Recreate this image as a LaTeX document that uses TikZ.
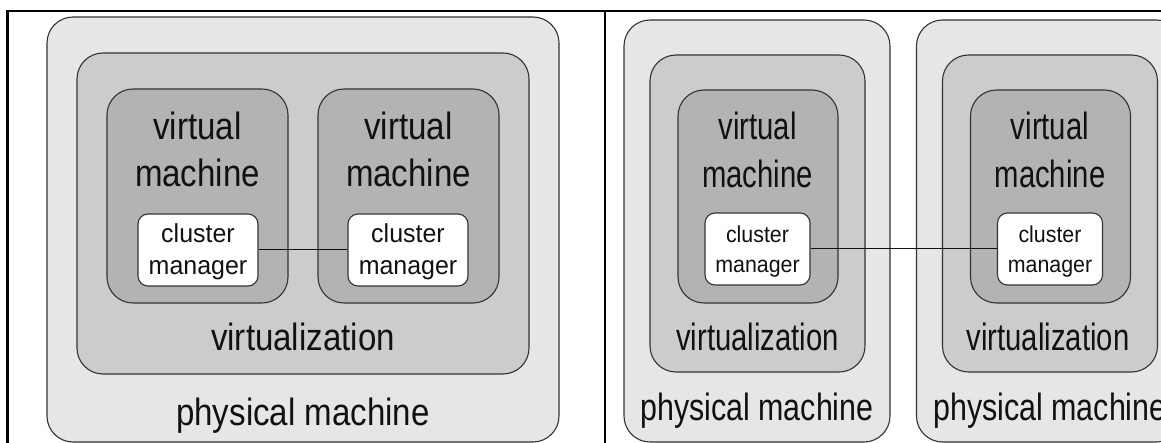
\documentclass[tikz,border=0pt]{standalone}
\usepackage{fontspec}
\setmainfont{Liberation Sans}
\newfontfamily\wideL[FakeStretch=0.87]{Liberation Sans}
\newfontfamily\wideR[FakeStretch=0.77]{Liberation Sans}
\newfontfamily\wideRb[FakeStretch=0.80]{Liberation Sans}
\newfontfamily\smallL[FakeStretch=0.96]{Liberation Sans}
\newfontfamily\smallR[FakeStretch=0.93]{Liberation Sans}
\definecolor{pmfill}{HTML}{E6E6E6}
\definecolor{vtfill}{HTML}{CCCCCC}
\definecolor{vmfill}{HTML}{B3B3B3}
\definecolor{edge}{HTML}{333333}
\definecolor{ink}{HTML}{111111}
\tikzset{
  box/.style={draw=edge, line width=1.1pt, inner sep=0pt, rounded corners=26pt},
  pmbox/.style={box, fill=pmfill},
  vtbox/.style={box, fill=vtfill},
  vmbox/.style={box, fill=vmfill},
  cmbox/.style={box, fill=white, rounded corners=10pt},
  txt/.style={anchor=base, inner sep=0pt, text=ink},
  bigL/.style={txt, font=\wideL\fontsize{38}{46}\selectfont},
  bigR/.style={txt, font=\wideR\fontsize{38}{46}\selectfont},
  pmR/.style={txt, font=\wideRb\fontsize{38}{46}\selectfont},
  smL/.style={txt, font=\smallL\fontsize{26}{32}\selectfont},
  smR/.style={txt, font=\smallR\fontsize{23}{30}\selectfont},
  link/.style={draw=ink, line width=1pt},
  frame/.style={draw=black, line width=2.6pt}
}
\begin{document}
\begin{tikzpicture}[x=1pt, y=-1pt]
\useasboundingbox (0,0) rectangle (1161,443);
\fill[white] (0,0) rectangle (1161,443);
\begin{scope}
\clip (0,0) rectangle (1161,443);

% ---------- left panel: one physical machine ----------
\node[pmbox, minimum width=512pt, minimum height=425pt] (pmL) at (303,229.5) {};
\node[vtbox, minimum width=452pt, minimum height=321pt] (vtL) at (303,213.5) {};
\node[vmbox, minimum width=181pt, minimum height=214pt] (vmL1) at (197.5,196) {};
\node[vmbox, minimum width=181pt, minimum height=214pt] (vmL2) at (408.5,196) {};
\node[cmbox, minimum width=120pt, minimum height=72pt] (cmL1) at (198,250) {};
\node[cmbox, minimum width=120pt, minimum height=72pt] (cmL2) at (408,250) {};

\node[bigL] (vmL1a) at (197.5,140) {virtual};
\node[bigL] (vmL1b) at (197.5,187) {machine};
\node[bigL] (vmL2a) at (408.5,140) {virtual};
\node[bigL] (vmL2b) at (408.5,187) {machine};
\node[smL] (cmL1a) at (198,243) {cluster};
\node[smL] (cmL1b) at (198,275) {manager};
\node[smL] (cmL2a) at (408,243) {cluster};
\node[smL] (cmL2b) at (408,275) {manager};
\node[bigL] (vtLt) at (303,350) {virtualization};
\node[bigL] (pmLt) at (303,425) {physical machine};

\draw[link] (cmL1.east) -- (cmL2.west);

% ---------- right panel: two physical machines ----------
\node[pmbox, minimum width=266pt, minimum height=422pt] (pmA) at (757,231) {};
\node[vtbox, minimum width=215pt, minimum height=317pt] (vtA) at (757.5,213.5) {};
\node[vmbox, minimum width=160pt, minimum height=213pt] (vmA) at (758,196.5) {};
\node[cmbox, minimum width=105pt, minimum height=72pt] (cmA) at (757.5,249) {};

\node[pmbox, minimum width=266pt, minimum height=422pt] (pmB) at (1049.5,231) {};
\node[vtbox, minimum width=215pt, minimum height=317pt] (vtB) at (1050,213.5) {};
\node[vmbox, minimum width=160pt, minimum height=213pt] (vmB) at (1050.5,196.5) {};
\node[cmbox, minimum width=105pt, minimum height=72pt] (cmB) at (1050,249) {};

\node[bigR] (vmAa) at (757.5,140) {virtual};
\node[bigR] (vmAb) at (757.5,188) {machine};
\node[smR] (cmAa) at (757.5,243) {cluster};
\node[smR] (cmAb) at (757.5,273) {manager};
\node[bigR] (vtAt) at (757.5,350) {virtualization};
\node[pmR] (pmAt) at (757,420) {physical machine};

\node[bigR] (vmBa) at (1050,140) {virtual};
\node[bigR] (vmBb) at (1050,188) {machine};
\node[smR] (cmBa) at (1050,243) {cluster};
\node[smR] (cmBb) at (1050,273) {manager};
\node[bigR] (vtBt) at (1048,350) {virtualization};
\node[pmR] (pmBt) at (1050,420) {physical machine};

\draw[link] (cmA.east) -- (cmB.west);

% ---------- table frame ----------
\draw[frame] (7.5,460) -- (7.5,11) -- (1180,11);
\draw[frame] (605,11) -- (605,460);
\end{scope}
\end{tikzpicture}
\end{document}
